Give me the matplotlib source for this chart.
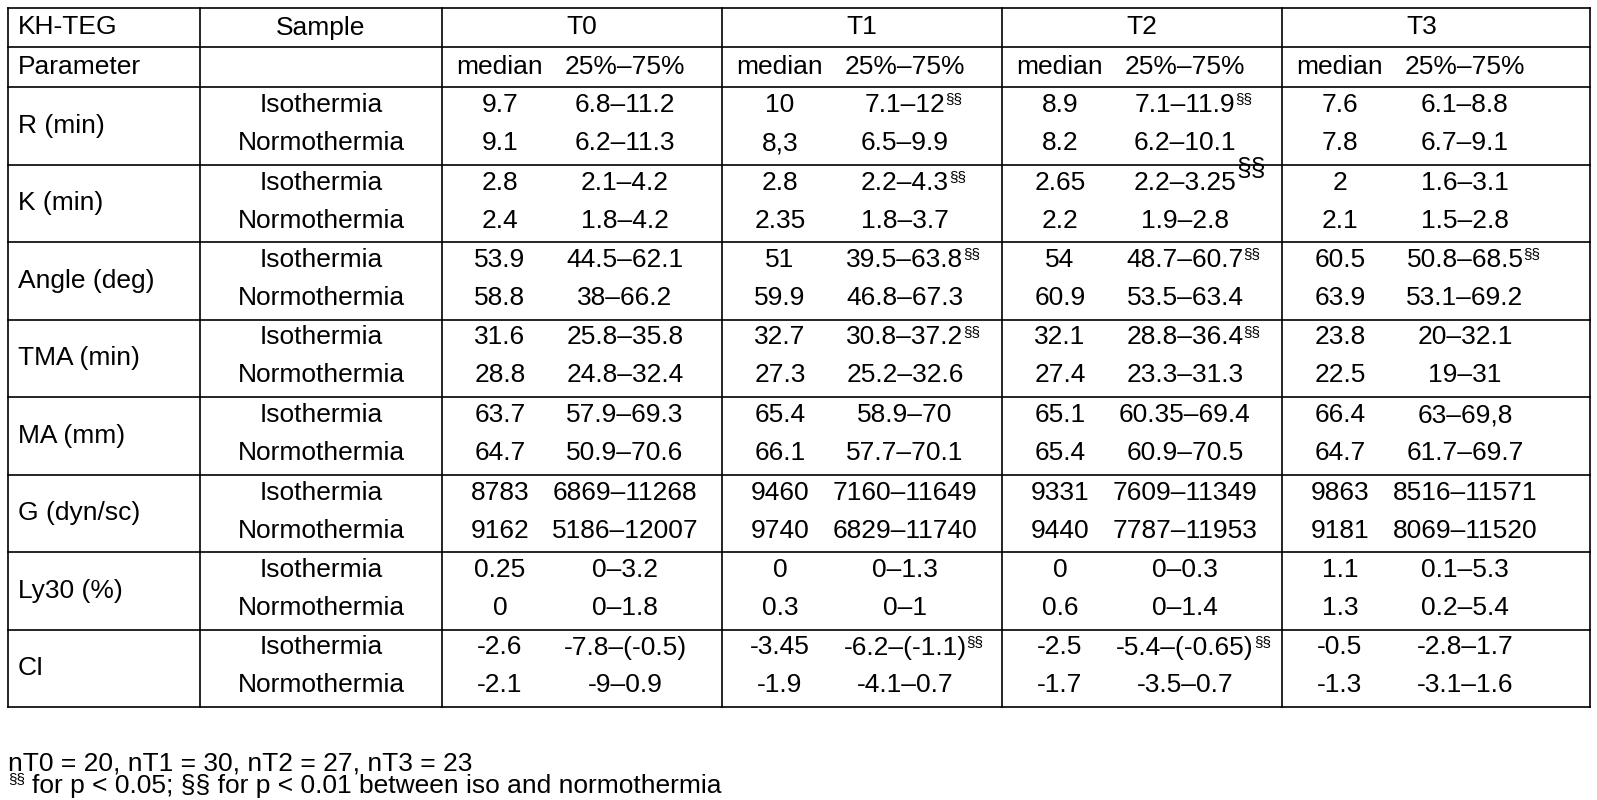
import matplotlib
matplotlib.use("Agg")
import matplotlib.pyplot as plt

plt.rcParams['font.family'] = ['Liberation Sans', 'DejaVu Sans']

times = ["T0", "T1", "T2", "T3"]
params = ["R (min)", "K (min)", "Angle (deg)", "TMA (min)", "MA (mm)", "G (dyn/sc)", "Ly30 (%)", "CI"]
samples = ["Isothermia", "Normothermia"]
# medians[param][sample][time]
medians = [
    [["9.7", "10", "8.9", "7.6"], ["9.1", "8,3", "8.2", "7.8"]],
    [["2.8", "2.8", "2.65", "2"], ["2.4", "2.35", "2.2", "2.1"]],
    [["53.9", "51", "54", "60.5"], ["58.8", "59.9", "60.9", "63.9"]],
    [["31.6", "32.7", "32.1", "23.8"], ["28.8", "27.3", "27.4", "22.5"]],
    [["63.7", "65.4", "65.1", "66.4"], ["64.7", "66.1", "65.4", "64.7"]],
    [["8783", "9460", "9331", "9863"], ["9162", "9740", "9440", "9181"]],
    [["0.25", "0", "0", "1.1"], ["0", "0.3", "0.6", "1.3"]],
    [["-2.6", "-3.45", "-2.5", "-0.5"], ["-2.1", "-1.9", "-1.7", "-1.3"]],
]
ranges = [
    [["6.8–11.2", "7.1–12", "7.1–11.9", "6.1–8.8"], ["6.2–11.3", "6.5–9.9", "6.2–10.1", "6.7–9.1"]],
    [["2.1–4.2", "2.2–4.3", "2.2–3.25", "1.6–3.1"], ["1.8–4.2", "1.8–3.7", "1.9–2.8", "1.5–2.8"]],
    [["44.5–62.1", "39.5–63.8", "48.7–60.7", "50.8–68.5"], ["38–66.2", "46.8–67.3", "53.5–63.4", "53.1–69.2"]],
    [["25.8–35.8", "30.8–37.2", "28.8–36.4", "20–32.1"], ["24.8–32.4", "25.2–32.6", "23.3–31.3", "19–31"]],
    [["57.9–69.3", "58.9–70", "60.35–69.4", "63–69,8"], ["50.9–70.6", "57.7–70.1", "60.9–70.5", "61.7–69.7"]],
    [["6869–11268", "7160–11649", "7609–11349", "8516–11571"], ["5186–12007", "6829–11740", "7787–11953", "8069–11520"]],
    [["0–3.2", "0–1.3", "0–0.3", "0.1–5.3"], ["0–1.8", "0–1", "0–1.4", "0.2–5.4"]],
    [["-7.8–(-0.5)", "-6.2–(-1.1)", "-5.4–(-0.65)", "-2.8–1.7"], ["-9–0.9", "-4.1–0.7", "-3.5–0.7", "-3.1–1.6"]],
]
# significance marks: (param, sample, time) -> mark
marks = {(0, 0, 1): "§§", (0, 0, 2): "§§", (1, 0, 1): "§§", (1, 0, 2): "§§",
         (2, 0, 1): "§§", (2, 0, 2): "§§", (2, 0, 3): "§§",
         (3, 0, 1): "§§", (3, 0, 2): "§§", (7, 0, 1): "§§", (7, 0, 2): "§§"}
footnotes = ["nT0 = 20, nT1 = 30, nT2 = 27, nT3 = 23",
             "§§ for p < 0.05; §§ for p < 0.01 between iso and normothermia"]

W, H = 1597, 800
fig = plt.figure(figsize=(W / 100, H / 100), dpi=100)
ax = fig.add_axes([0, 0, 1, 1])
ax.set_xlim(0, W)
ax.set_ylim(H, 0)
ax.axis("off")

fs = 19
col_x = [8, 200, 442, 722, 1002, 1282, 1590]
top, h1, h2 = 8, 47, 87
grp = 77.5
bottom = h2 + grp * len(params)
lw = 1.2
for y in [top, h1, h2] + [h2 + grp * (i + 1) for i in range(len(params))]:
    ax.plot([col_x[0], col_x[-1]], [y, y], color="black", lw=lw)
for x in col_x:
    ax.plot([x, x], [top, bottom], color="black", lw=lw)

ax.text(18, (top + h1) / 2, "KH-TEG", fontsize=fs, va="center", ha="left")
ax.text(18, (h1 + h2) / 2, "Parameter", fontsize=fs, va="center", ha="left")
ax.text((col_x[1] + col_x[2]) / 2, (top + h1) / 2, "Sample", fontsize=fs, va="center", ha="center")
for j, t in enumerate(times):
    x0 = col_x[2 + j]
    ax.text(x0 + 140, (top + h1) / 2, t, fontsize=fs, va="center", ha="center")
    ax.text(x0 + 58, (h1 + h2) / 2, "median", fontsize=fs, va="center", ha="center")
    ax.text(x0 + 183, (h1 + h2) / 2, "25%–75%", fontsize=fs, va="center", ha="center")

for i, p in enumerate(params):
    gy = h2 + grp * i
    ax.text(18, gy + grp / 2, p, fontsize=fs, va="center", ha="left")
    for s, sn in enumerate(samples):
        y = gy + 18 + s * 38
        ax.text((col_x[1] + col_x[2]) / 2, y, sn, fontsize=fs, va="center", ha="center")
        for j in range(len(times)):
            x0 = col_x[2 + j]
            ax.text(x0 + 58, y, medians[i][s][j], fontsize=fs, va="center", ha="center")
            t = ax.text(x0 + 183, y, ranges[i][s][j], fontsize=fs, va="center", ha="center")
            m = marks.get((i, s, j))
            if m:
                big = (i == 1 and j == 2)
                ax.annotate(m, xy=(1, 0.45 if not big else 0.55), xycoords=t,
                            fontsize=fs if big else 11, va="bottom", ha="left")

ax.text(8, 763, footnotes[0], fontsize=fs, va="center", ha="left")
ax.text(8, 786, "§§", fontsize=11, va="bottom", ha="left")
ax.text(32, 786, footnotes[1][3:], fontsize=fs, va="center", ha="left")

fig.savefig("out.png", dpi=100)
